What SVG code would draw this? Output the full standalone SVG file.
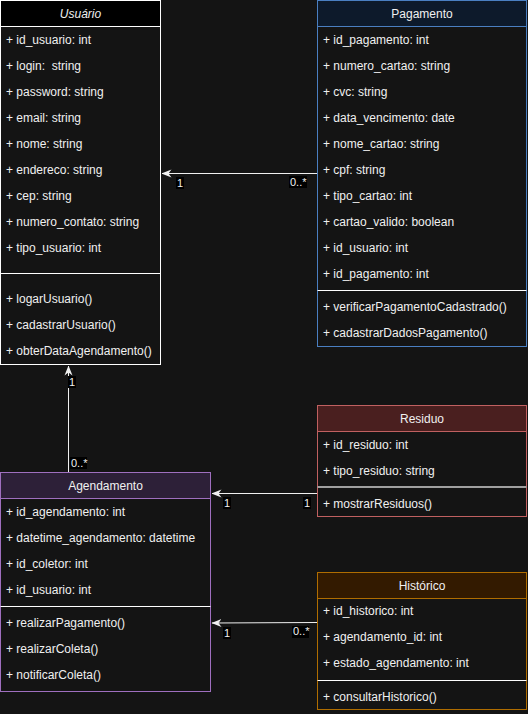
<svg xmlns="http://www.w3.org/2000/svg" width="528" height="714" viewBox="0 0 528 714">
<defs>
<style>
text{font-family:"Liberation Sans",Arial,sans-serif;font-size:12px;fill:#f0f0f0;white-space:pre}
.t{text-anchor:middle}
.body{fill:#141414}
.lbl{font-size:11px}
.conn{stroke:#f0f0f0;stroke-width:1;fill:none}
</style>
<marker id="arr" viewBox="0 0 10 10" refX="9.5" refY="5" markerWidth="10" markerHeight="10" markerUnits="userSpaceOnUse" orient="auto">
<path d="M0,1 L10,5 L0,9 L3,5 Z" fill="#f0f0f0"/>
</marker>
</defs>
<rect width="528" height="714" fill="#141414"/>

<g id="usuario">
<rect class="body" x="0.5" y="0.5" width="160" height="364" stroke="#ffffff"/>
<rect x="0.5" y="0.5" width="160" height="26" fill="#000000" stroke="#ffffff"/>
<text class="t" x="80.5" y="18" font-style="italic">Usuário</text>
<text x="6" y="44">+ id_usuario: int</text>
<text x="6" y="70" xml:space="preserve">+ login:  string</text>
<text x="6" y="96">+ password: string</text>
<text x="6" y="122">+ email: string</text>
<text x="6" y="148">+ nome: string</text>
<text x="6" y="174">+ endereco: string</text>
<text x="6" y="200">+ cep: string</text>
<text x="6" y="226">+ numero_contato: string</text>
<text x="6" y="252">+ tipo_usuario: int</text>
<line x1="0.5" y1="273.5" x2="160.5" y2="273.5" stroke="#ffffff"/>
<text x="6" y="303">+ logarUsuario()</text>
<text x="6" y="329">+ cadastrarUsuario()</text>
<text x="6" y="355">+ obterDataAgendamento()</text>
</g>

<g id="pagamento">
<rect class="body" x="317.5" y="0.5" width="209" height="346" stroke="#4a7fc1"/>
<rect x="317.5" y="0.5" width="209" height="26" fill="#0d1a2b" stroke="#4a7fc1"/>
<text class="t" x="422" y="18">Pagamento</text>
<text x="323" y="44">+ id_pagamento: int</text>
<text x="323" y="70">+ numero_cartao: string</text>
<text x="323" y="96">+ cvc: string</text>
<text x="323" y="122">+ data_vencimento: date</text>
<text x="323" y="148">+ nome_cartao: string</text>
<text x="323" y="174">+ cpf: string</text>
<text x="323" y="200">+ tipo_cartao: int</text>
<text x="323" y="226">+ cartao_valido: boolean</text>
<text x="323" y="252">+ id_usuario: int</text>
<text x="323" y="278">+ id_pagamento: int</text>
<line x1="317.5" y1="290.5" x2="526.5" y2="290.5" stroke="#ffffff"/>
<text x="323" y="311">+ verificarPagamentoCadastrado()</text>
<text x="323" y="337">+ cadastrarDadosPagamento()</text>
</g>

<g id="residuo">
<rect class="body" x="317.5" y="405.5" width="209" height="111" stroke="#c06060"/>
<rect x="317.5" y="405.5" width="209" height="26" fill="#4a1f1f" stroke="#c06060"/>
<text class="t" x="422" y="423">Residuo</text>
<text x="323" y="449">+ id_residuo: int</text>
<text x="323" y="475">+ tipo_residuo: string</text>
<line x1="317.5" y1="487" x2="526.5" y2="487" stroke="#a0a0a0" stroke-width="2"/>
<text x="323" y="508">+ mostrarResiduos()</text>
</g>

<g id="historico">
<rect class="body" x="317.5" y="572.5" width="209" height="137" stroke="#b06d00"/>
<rect x="317.5" y="572.5" width="209" height="26" fill="#331a00" stroke="#b06d00"/>
<text class="t" x="422" y="590">Histórico</text>
<text x="323" y="615">+ id_historico: int</text>
<text x="323" y="641">+ agendamento_id: int</text>
<text x="323" y="667">+ estado_agendamento: int</text>
<line x1="317.5" y1="680.5" x2="526.5" y2="680.5" stroke="#ffffff"/>
<text x="323" y="701">+ consultarHistorico()</text>
</g>

<g id="agendamento">
<rect class="body" x="0.5" y="472.5" width="210" height="219" stroke="#9f6fbf"/>
<rect x="0.5" y="472.5" width="210" height="26" fill="#2d2038" stroke="#9f6fbf"/>
<text class="t" x="105.5" y="490">Agendamento</text>
<text x="6" y="516">+ id_agendamento: int</text>
<text x="6" y="542">+ datetime_agendamento: datetime</text>
<text x="6" y="568">+ id_coletor: int</text>
<text x="6" y="594">+ id_usuario: int</text>
<line x1="0.5" y1="606.5" x2="210.5" y2="606.5" stroke="#ffffff"/>
<text x="6" y="627">+ realizarPagamento()</text>
<text x="6" y="653">+ realizarColeta()</text>
<text x="6" y="679">+ notificarColeta()</text>
</g>

<g id="connectors">
<path class="conn" d="M317,173.5 L162,173.5" marker-end="url(#arr)"/>
<path class="conn" d="M68.5,472 L68.5,366" marker-end="url(#arr)"/>
<path class="conn" d="M317,493.5 L212,493.5" marker-end="url(#arr)"/>
<path class="conn" d="M317,622.5 L212,623" marker-end="url(#arr)"/>
<g>
<rect x="176" y="177" width="8" height="12" fill="#000"/><text class="lbl" x="177" y="187">1</text>
<rect x="289" y="176" width="18" height="12" fill="#000"/><text class="lbl" x="290" y="186">0..*</text>
<rect x="68" y="376" width="8" height="12" fill="#000"/><text class="lbl" x="69" y="386">1</text>
<rect x="70" y="457" width="17" height="12" fill="#000"/><text class="lbl" x="71" y="467">0..*</text>
<rect x="223" y="497" width="8" height="12" fill="#000"/><text class="lbl" x="224" y="507">1</text>
<rect x="303" y="497" width="8" height="12" fill="#000"/><text class="lbl" x="304" y="507">1</text>
<rect x="223" y="627" width="8" height="12" fill="#000"/><text class="lbl" x="224" y="637">1</text>
<rect x="292" y="626" width="17" height="12" fill="#000"/><text class="lbl" x="293" y="635">0..*</text>
</g>
</g>
</svg>
